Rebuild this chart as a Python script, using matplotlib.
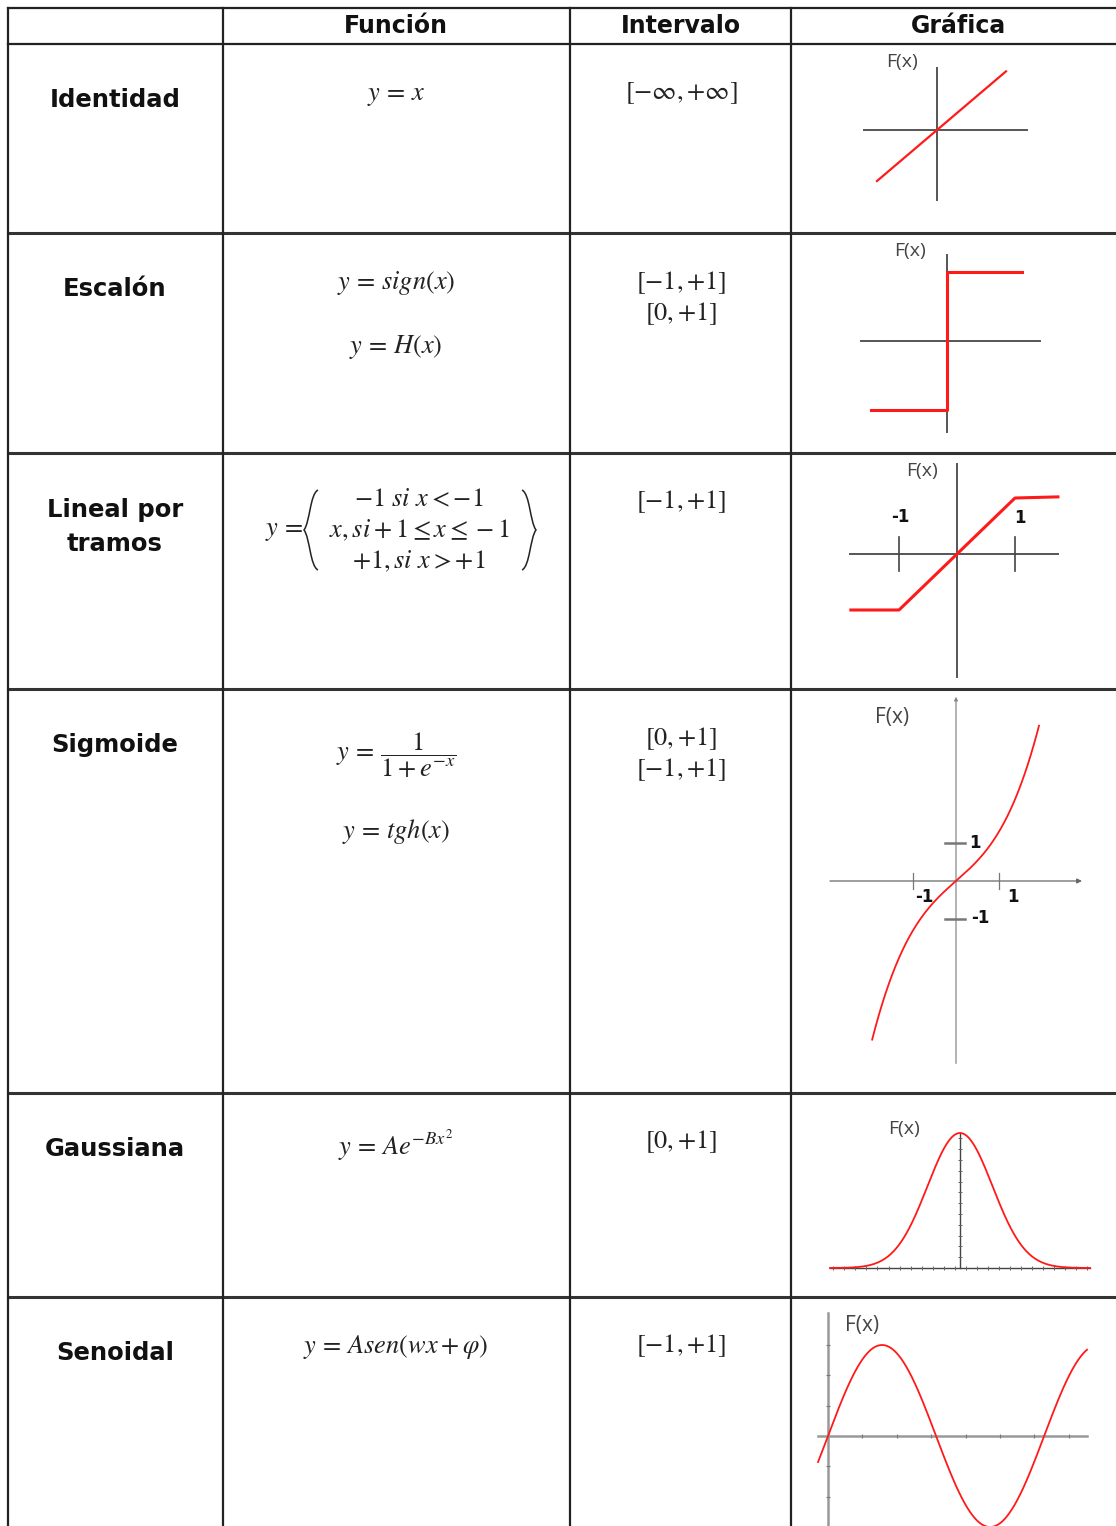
import numpy as np
import matplotlib.pyplot as plt
from matplotlib.path import Path
from matplotlib.patches import PathPatch, FancyArrowPatch

plt.rcParams["mathtext.fontset"] = "stix"

W, H = 1116, 1526

# table content
headers = ["Función", "Intervalo", "Gráfica"]
row_names = ["Identidad", "Escalón", "Lineal por\ntramos", "Sigmoide", "Gaussiana", "Senoidal"]
functions = [
    [r"$y\, =\, x$"],
    [r"$y\, =\, sign(x)$", r"$y\, =\, H(x)$"],
    [],  # piecewise, drawn below
    [r"$y\, =\, \dfrac{1}{1 + e^{-x}}$", r"$y\, =\, tgh(x)$"],
    [r"$y\, =\, Ae^{-Bx^{2}}$"],
    [r"$y\, =\, Asen(wx + \varphi)$"],
]
piecewise_lines = [r"$-1\ si\ x < -1$", r"$x, si + 1 \leq x \leq -1$", r"${+}1, si\ x > {+}1$"]
intervals = [
    [r"$[-\infty,{+}\infty]$"],
    [r"$[-1,{+}1]$", r"$[0,{+}1]$"],
    [r"$[-1,{+}1]$"],
    [r"$[0,{+}1]$", r"$[-1,{+}1]$"],
    [r"$[0,{+}1]$"],
    [r"$[-1,{+}1]$"],
]

# graph data (in each graph's own units)
ident_x = [-1.0, 1.15]
ident_y = [-1.0, 1.15]
step_x = [-1.0, 0.0, 0.0, 0.99]
step_y = [-1.0, -1.0, 1.0, 1.0]
ramp_x = [-1.83, -1.0, 1.0, 1.74]
ramp_y = [-1.0, -1.0, 1.0, 1.02]
sig_range = [-1.95, 1.93]
sig_cubic = 0.3
gauss_range = [-4.0, 4.0]
sine_range = [-0.29, 7.53]

# layout
col_x = [8, 223, 570, 791]
row_y = [8, 44, 233, 453, 689, 1093, 1297]
col_mid = [115, 396, 681, 958]
name_y = [100, 289, 527, 745, 1149, 1353]
func_y = [[95], [283, 347], [], [755, 832], [1145], [1347]]
int_y = [[93], [283, 314], [502], [739, 770], [1142], [1346]]

fig = plt.figure(figsize=(W / 100, H / 100), dpi=100)
ax = fig.add_axes([0, 0, 1, 1])
ax.set_xlim(0, W)
ax.set_ylim(H, 0)
ax.axis("off")

# grid
ax.plot([col_x[0], W], [row_y[0]] * 2, color="#222", lw=1.6)
ax.plot([col_x[0], W], [row_y[1]] * 2, color="#222", lw=1.6)
for y in row_y[2:]:
    ax.plot([col_x[0], W], [y, y], color="#333", lw=2.2)
for x in col_x:
    ax.plot([x, x], [row_y[0], H], color="#222", lw=1.6)

hfont = dict(family="DejaVu Sans", weight="bold", color="#111")
for i, h in enumerate(headers):
    ax.text(col_mid[i + 1], 26, h, ha="center", va="center", fontsize=17, **hfont)

mcol = "#222"
for i, name in enumerate(row_names):
    ax.text(col_mid[0], name_y[i], name, ha="center", va="center", fontsize=17.5,
            linespacing=1.5, **hfont)
    for f, y in zip(functions[i], func_y[i]):
        ax.text(col_mid[1], y, f, ha="center", va="center", fontsize=19, color=mcol)
    for t, y in zip(intervals[i], int_y[i]):
        ax.text(col_mid[2], y, t, ha="center", va="center", fontsize=19, color=mcol)

# piecewise function with braces
for t, y in zip(piecewise_lines, [499, 530, 561]):
    ax.text(419, y, t, ha="center", va="center", fontsize=19, color=mcol)
ax.text(303, 530, r"$y\, =$", ha="right", va="center", fontsize=19, color=mcol)
lb = Path([(318, 490), (310, 494), (310, 522), (304, 530), (310, 538), (310, 566), (318, 570)],
          [Path.MOVETO, Path.CURVE4, Path.CURVE4, Path.CURVE4, Path.CURVE4, Path.CURVE4, Path.CURVE4])
rb = Path([(522, 490), (530, 494), (530, 522), (536, 530), (530, 538), (530, 566), (522, 570)],
          [Path.MOVETO, Path.CURVE4, Path.CURVE4, Path.CURVE4, Path.CURVE4, Path.CURVE4, Path.CURVE4])
for p in (lb, rb):
    ax.add_patch(PathPatch(p, fc="none", ec=mcol, lw=1.1))


def inset(cx, cy, sx, sy, box):
    x0, y0, x1, y1 = box
    a = fig.add_axes([x0 / W, 1 - y1 / H, (x1 - x0) / W, (y1 - y0) / H])
    a.set_xlim((x0 - cx) / sx, (x1 - cx) / sx)
    a.set_ylim((cy - y1) / sy, (cy - y0) / sy)
    a.axis("off")
    return a


lab = dict(family="Open Sans", color="#444", ha="center", va="center")
num = dict(fontsize=12, fontweight="bold", ha="center", va="center", color="#111")
RED = "#ff1a1a"

# Identidad
a = inset(937, 130, 60, 51, (850, 55, 1040, 205))
a.plot([-1.22, 1.5], [0, 0], color="#555", lw=1.4)
a.plot([0, 0], [-1.37, 1.22], color="#555", lw=1.4)
a.plot(ident_x, ident_y, color=RED, lw=1.6)
ax.text(902, 62, "F(x)", fontsize=14, **lab)

# Escalon
a = inset(947, 341, 76, 69, (850, 245, 1050, 440))
a.plot([-1.13, 1.22], [0, 0], color="#555", lw=1.4)
a.plot([0, 0], [-1.32, 1.25], color="#555", lw=1.4)
a.plot(step_x, step_y, color=RED, lw=2.2)
ax.text(910, 251, "F(x)", fontsize=14, **lab)

# Lineal por tramos
a = inset(957, 554, 58, 56, (840, 460, 1070, 685))
a.plot([-1.85, 1.74], [0, 0], color="#555", lw=1.4)
a.plot([0, 0], [-2.2, 1.6], color="#555", lw=1.4)
for tx in (-1, 1):
    a.plot([tx, tx], [-0.3, 0.3], color="#444", lw=1.2)
a.plot(ramp_x, ramp_y, color=RED, lw=2.2)
ax.text(922, 471, "F(x)", fontsize=14, **lab)
ax.text(900, 517, "-1", **num)
ax.text(1020, 518, "1", **num)

# Sigmoide
a = inset(956, 881, 43, 38, (820, 690, 1090, 1070))
a.add_patch(FancyArrowPatch((-2.93, 0), (2.93, 0), arrowstyle="-|>", mutation_scale=7,
                            color="#666", lw=0.9, shrinkA=0, shrinkB=0))
a.add_patch(FancyArrowPatch((0, -4.8), (0, 4.85), arrowstyle="-|>", mutation_scale=5,
                            color="#888", lw=0.9, shrinkA=0, shrinkB=0))
for tx in (-1, 1):
    a.plot([tx, tx], [-0.2, 0.22], color="#777", lw=0.9)
for ty in (-1, 1):
    a.plot([-0.25, 0.2], [ty, ty], color="#777", lw=1.8)
xs = np.linspace(sig_range[0], sig_range[1], 200)
a.plot(xs, xs + sig_cubic * xs ** 3, color=RED, lw=1.3)
ax.text(892, 717, "F(x)", fontsize=15, **lab)
ax.text(924, 897, "-1", **num)
ax.text(1013, 897, "1", **num)
ax.text(975, 843, "1", **num)
ax.text(980, 918, "-1", **num)

# Gaussiana
a = inset(960, 1268, 32.5, 135, (825, 1110, 1095, 1280))
a.plot([-4.0, 4.0], [0, 0], color="#444", lw=1.0)
a.plot([0, 0], [0, 1.0], color="#444", lw=1.0)
a.plot(np.arange(-3.9, 4.0, 0.34), np.zeros(24), ls="none", marker="|", ms=3, color="#666", mew=0.7)
a.plot(np.zeros(12), np.arange(0.08, 1.0, 0.08), ls="none", marker="_", ms=3, color="#666", mew=0.7)
xs = np.linspace(gauss_range[0], gauss_range[1], 300)
a.plot(xs, np.exp(-xs ** 2 / 2), color=RED, lw=1.3)
ax.text(904, 1129, "F(x)", fontsize=14, **lab)

# Senoidal
a = inset(828, 1436, 34.4, 91, (810, 1305, 1095, 1526))
a.plot([-0.29, 7.53], [0, 0], color="#999", lw=1.8)
a.plot([0, 0], [-1.0, 1.35], color="#999", lw=1.8)
a.plot(np.arange(1, 8), np.zeros(7), ls="none", marker="|", ms=3, color="#777", mew=0.8)
a.plot(np.zeros(6), [-1, -2 / 3, -1 / 3, 1 / 3, 2 / 3, 1], ls="none", marker="_", ms=3,
       color="#777", mew=0.8)
xs = np.linspace(sine_range[0], sine_range[1], 300)
a.plot(xs, np.sin(xs), color=RED, lw=1.3)
ax.text(862, 1326, "F(x)", fontsize=15, **lab)

fig.savefig("out.png", dpi=100)
